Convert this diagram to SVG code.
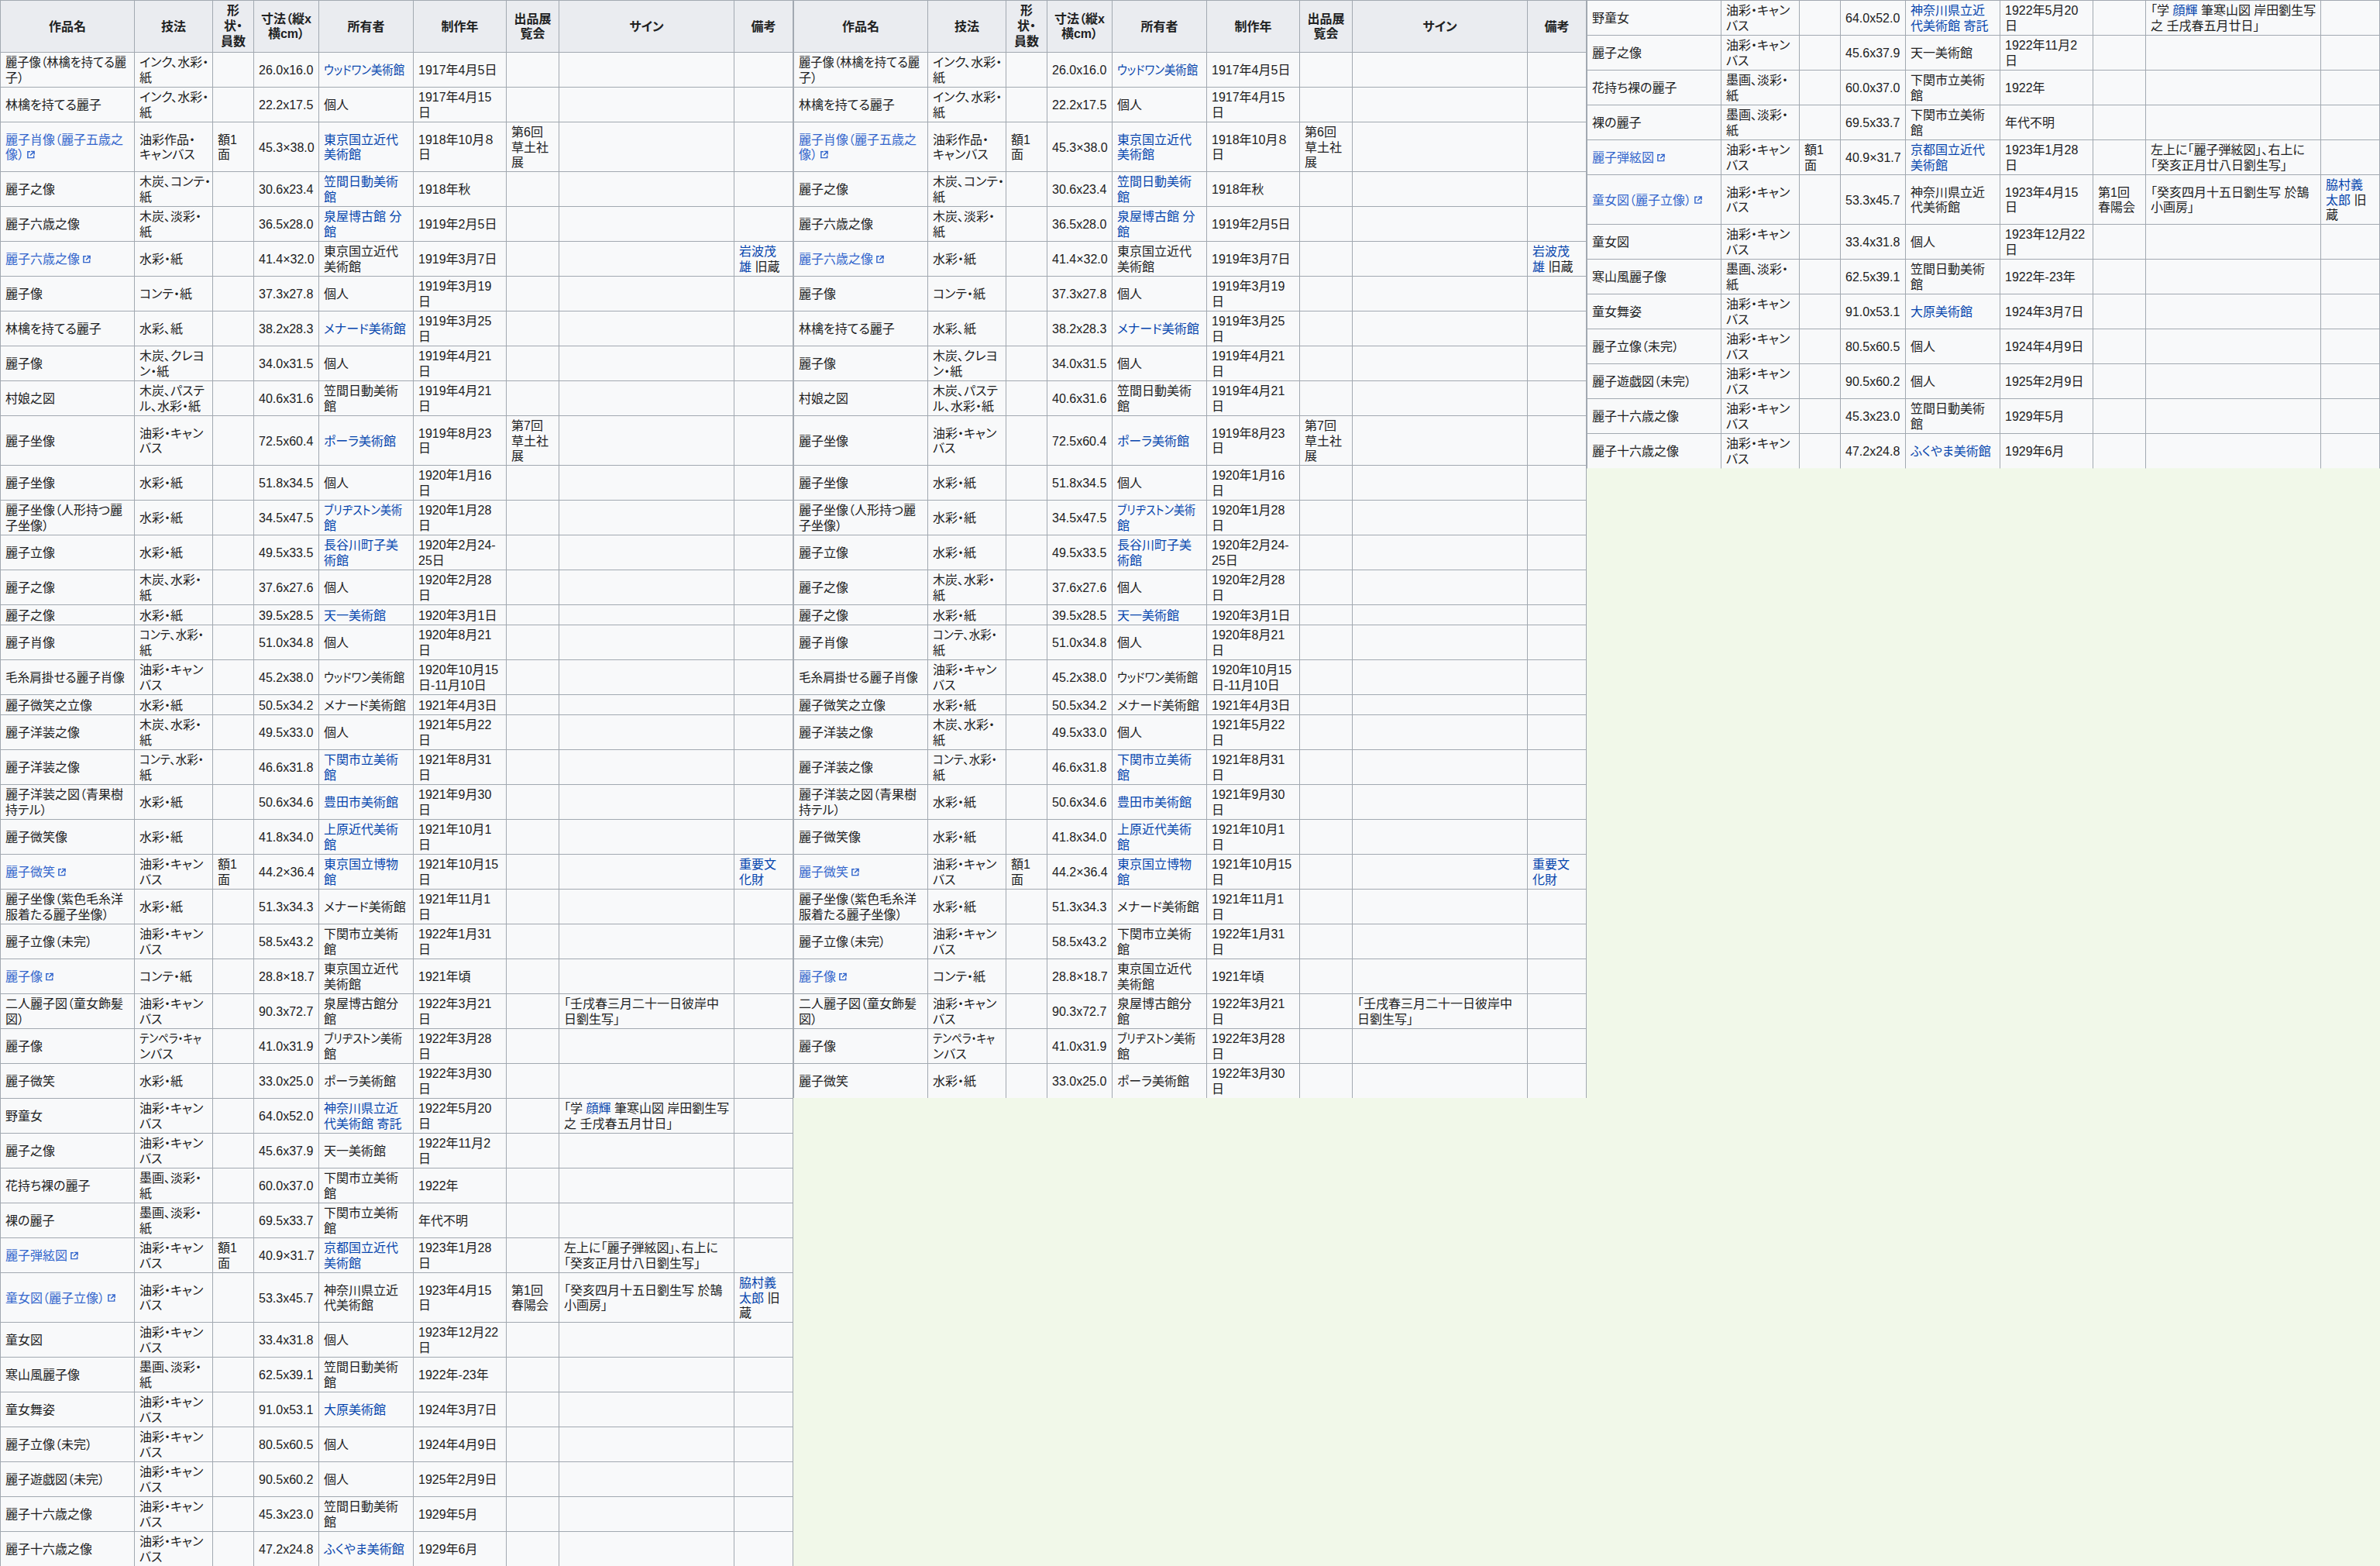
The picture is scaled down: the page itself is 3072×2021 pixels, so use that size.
<svg xmlns="http://www.w3.org/2000/svg" xmlns:xlink="http://www.w3.org/1999/xlink" width="3072" height="2021" viewBox="0 0 3072 2021">
<style>
.tb{font-family:"Liberation Sans","Noto Sans CJK JP",sans-serif;font-size:16px;fill:#202122;font-feature-settings:"palt"}
.h{font-weight:bold;text-anchor:middle}
.l{fill:#0645ad}
.e{fill:#3366cc}
.grid{fill:none;stroke:#a2a9b1;stroke-width:1}
</style>
<defs>
<symbol id="ext" viewBox="0 0 12 12"><path d="M5 2H1.5v8.5H10V7" fill="none" stroke="#36c" stroke-width="1.6"/><path d="M6 1.5h4.5V6M10.5 1.5L5 7" fill="none" stroke="#36c" stroke-width="1.6"/></symbol>
<clipPath id="cl"><rect x="0" y="0" width="1024" height="2021"/></clipPath>
<clipPath id="cm"><rect x="1024" y="0" width="1024" height="1417"/></clipPath>
<clipPath id="cr"><rect x="2048" y="0" width="1024" height="604.5"/></clipPath>
<g id="tbl" class="tb">
<rect x="0.5" y="0.5" width="1023" height="67" fill="#eaecf0"/>
<rect x="0.5" y="67.5" width="1023" height="1954" fill="#f8f9fa"/>
<path class="grid" d="M0 0.5H1024M0 67.5H1024M0 112.5H1024M0 157.5H1024M0 221.5H1024M0 266.5H1024M0 311.5H1024M0 356.5H1024M0 401.5H1024M0 446.5H1024M0 491.5H1024M0 536.5H1024M0 600.5H1024M0 645.5H1024M0 690.5H1024M0 735.5H1024M0 780.5H1024M0 806.5H1024M0 851.5H1024M0 896.5H1024M0 922.5H1024M0 967.5H1024M0 1012.5H1024M0 1057.5H1024M0 1102.5H1024M0 1147.5H1024M0 1192.5H1024M0 1237.5H1024M0 1282.5H1024M0 1327.5H1024M0 1372.5H1024M0 1417.5H1024M0 1462.5H1024M0 1507.5H1024M0 1552.5H1024M0 1597.5H1024M0 1642.5H1024M0 1706.5H1024M0 1751.5H1024M0 1796.5H1024M0 1841.5H1024M0 1886.5H1024M0 1931.5H1024M0 1976.5H1024"/>
<path class="grid" d="M0.5 0V2022M173.5 0V2022M274.5 0V2022M327.5 0V2022M411.5 0V2022M533.5 0V2022M653.5 0V2022M721.5 0V2022M947.5 0V2022M1023.5 0V2022"/>
<g class="h">
<text x="87" y="39.5">作品名</text>
<text x="224" y="39.5">技法</text>
<text x="301" y="18.7">形<tspan x="301" dy="20">状・</tspan><tspan x="301" dy="20">員数</tspan></text>
<text x="369.5" y="29.5">寸法（縦x<tspan x="369.5" dy="19.5">横cm）</tspan></text>
<text x="472.5" y="39.5">所有者</text>
<text x="593.5" y="39.5">制作年</text>
<text x="687.5" y="29.5">出品展<tspan x="687.5" dy="19.5">覧会</tspan></text>
<text x="834.5" y="39.5">サイン</text>
<text x="985.5" y="39.5">備考</text>
</g>
<g>
<text x="7" y="86.4" textLength="156" lengthAdjust="spacingAndGlyphs">麗子像（林檎を持てる麗</text>
<text x="7" y="105.6">子）</text>
<text x="180" y="86.4">インク、水彩・<tspan x="180" dy="19.2">紙</tspan></text>
<text x="334" y="96">26.0x16.0</text>
<text x="418" y="96" class="l" textLength="104" lengthAdjust="spacingAndGlyphs">ウッドワン美術館</text>
<text x="540" y="96">1917年4月5日</text>

<text x="7" y="141">林檎を持てる麗子</text>
<text x="180" y="131.4">インク、水彩・<tspan x="180" dy="19.2">紙</tspan></text>
<text x="334" y="141">22.2x17.5</text>
<text x="418" y="141">個人</text>
<text x="540" y="131.4">1917年4月15<tspan x="540" dy="19.2">日</tspan></text>

<text x="7" y="185.9" class="e">麗子肖像（麗子五歳之<tspan x="7" dy="19.2">像）</tspan></text>
<use href="#ext" x="34.5" y="194" width="11" height="11"/>
<text x="180" y="185.9">油彩作品・<tspan x="180" dy="19.2">キャンバス</tspan></text>
<text x="281" y="185.9">額1<tspan x="281" dy="19.2">面</tspan></text>
<text x="334" y="195.5">45.3×38.0</text>
<text x="418" y="185.9" class="l">東京国立近代<tspan x="418" dy="19.2">美術館</tspan></text>
<text x="540" y="185.9">1918年10月８<tspan x="540" dy="19.2">日</tspan></text>
<text x="660" y="176.3">第6回<tspan x="660" dy="19.2">草土社</tspan><tspan x="660" dy="19.2">展</tspan></text>

<text x="7" y="250">麗子之像</text>
<text x="180" y="240.4">木炭、コンテ・<tspan x="180" dy="19.2">紙</tspan></text>
<text x="334" y="250">30.6x23.4</text>
<text x="418" y="240.4" class="l">笠間日動美術<tspan x="418" dy="19.2">館</tspan></text>
<text x="540" y="250">1918年秋</text>

<text x="7" y="295">麗子六歳之像</text>
<text x="180" y="285.4">木炭、淡彩・<tspan x="180" dy="19.2">紙</tspan></text>
<text x="334" y="295">36.5x28.0</text>
<text x="418" y="285.4" class="l">泉屋博古館 分<tspan x="418" dy="19.2">館</tspan></text>
<text x="540" y="295">1919年2月5日</text>

<text x="7" y="340" class="e">麗子六歳之像</text>
<use href="#ext" x="106.5" y="329" width="11" height="11"/>
<text x="180" y="340">水彩・紙</text>
<text x="334" y="340">41.4×32.0</text>
<text x="418" y="330.4">東京国立近代<tspan x="418" dy="19.2">美術館</tspan></text>
<text x="540" y="340">1919年3月7日</text>
<text x="954" y="330.4"><tspan class="l">岩波茂</tspan><tspan x="954" dy="19.2" class="l">雄</tspan> 旧蔵</text>

<text x="7" y="385">麗子像</text>
<text x="180" y="385">コンテ・紙</text>
<text x="334" y="385">37.3x27.8</text>
<text x="418" y="385">個人</text>
<text x="540" y="375.4">1919年3月19<tspan x="540" dy="19.2">日</tspan></text>

<text x="7" y="430">林檎を持てる麗子</text>
<text x="180" y="430">水彩、紙</text>
<text x="334" y="430">38.2x28.3</text>
<text x="418" y="430" class="l">メナード美術館</text>
<text x="540" y="420.4">1919年3月25<tspan x="540" dy="19.2">日</tspan></text>

<text x="7" y="475">麗子像</text>
<text x="180" y="465.4">木炭、クレヨ<tspan x="180" dy="19.2">ン・紙</tspan></text>
<text x="334" y="475">34.0x31.5</text>
<text x="418" y="475">個人</text>
<text x="540" y="465.4">1919年4月21<tspan x="540" dy="19.2">日</tspan></text>

<text x="7" y="520">村娘之図</text>
<text x="180" y="510.4">木炭、パステ<tspan x="180" dy="19.2">ル、水彩・紙</tspan></text>
<text x="334" y="520">40.6x31.6</text>
<text x="418" y="510.4">笠間日動美術<tspan x="418" dy="19.2">館</tspan></text>
<text x="540" y="510.4">1919年4月21<tspan x="540" dy="19.2">日</tspan></text>

<text x="7" y="574.5">麗子坐像</text>
<text x="180" y="564.9">油彩・キャン<tspan x="180" dy="19.2">バス</tspan></text>
<text x="334" y="574.5">72.5x60.4</text>
<text x="418" y="574.5" class="l">ポーラ美術館</text>
<text x="540" y="564.9">1919年8月23<tspan x="540" dy="19.2">日</tspan></text>
<text x="660" y="555.3">第7回<tspan x="660" dy="19.2">草土社</tspan><tspan x="660" dy="19.2">展</tspan></text>

<text x="7" y="629">麗子坐像</text>
<text x="180" y="629">水彩・紙</text>
<text x="334" y="629">51.8x34.5</text>
<text x="418" y="629">個人</text>
<text x="540" y="619.4">1920年1月16<tspan x="540" dy="19.2">日</tspan></text>

<text x="7" y="664.4">麗子坐像（人形持つ麗<tspan x="7" dy="19.2">子坐像）</tspan></text>
<text x="180" y="674">水彩・紙</text>
<text x="334" y="674">34.5x47.5</text>
<text x="418" y="664.4" class="l" textLength="101" lengthAdjust="spacingAndGlyphs">ブリヂストン美術</text>
<text x="418" y="683.6" class="l">館</text>
<text x="540" y="664.4">1920年1月28<tspan x="540" dy="19.2">日</tspan></text>

<text x="7" y="719">麗子立像</text>
<text x="180" y="719">水彩・紙</text>
<text x="334" y="719">49.5x33.5</text>
<text x="418" y="709.4" class="l">長谷川町子美<tspan x="418" dy="19.2">術館</tspan></text>
<text x="540" y="709.4">1920年2月24-<tspan x="540" dy="19.2">25日</tspan></text>

<text x="7" y="764">麗子之像</text>
<text x="180" y="754.4">木炭、水彩・<tspan x="180" dy="19.2">紙</tspan></text>
<text x="334" y="764">37.6x27.6</text>
<text x="418" y="764">個人</text>
<text x="540" y="754.4">1920年2月28<tspan x="540" dy="19.2">日</tspan></text>

<text x="7" y="799.5">麗子之像</text>
<text x="180" y="799.5">水彩・紙</text>
<text x="334" y="799.5">39.5x28.5</text>
<text x="418" y="799.5" class="l">天一美術館</text>
<text x="540" y="799.5">1920年3月1日</text>

<text x="7" y="835">麗子肖像</text>
<text x="180" y="825.4" textLength="83" lengthAdjust="spacingAndGlyphs">コンテ、水彩・</text>
<text x="180" y="844.6">紙</text>
<text x="334" y="835">51.0x34.8</text>
<text x="418" y="835">個人</text>
<text x="540" y="825.4">1920年8月21<tspan x="540" dy="19.2">日</tspan></text>

<text x="7" y="880" textLength="154" lengthAdjust="spacingAndGlyphs">毛糸肩掛せる麗子肖像</text>
<text x="180" y="870.4">油彩・キャン<tspan x="180" dy="19.2">バス</tspan></text>
<text x="334" y="880">45.2x38.0</text>
<text x="418" y="880" textLength="104" lengthAdjust="spacingAndGlyphs">ウッドワン美術館</text>
<text x="540" y="870.4">1920年10月15<tspan x="540" dy="19.2">日-11月10日</tspan></text>

<text x="7" y="915.5">麗子微笑之立像</text>
<text x="180" y="915.5">水彩・紙</text>
<text x="334" y="915.5">50.5x34.2</text>
<text x="418" y="915.5">メナード美術館</text>
<text x="540" y="915.5">1921年4月3日</text>

<text x="7" y="951">麗子洋装之像</text>
<text x="180" y="941.4">木炭、水彩・<tspan x="180" dy="19.2">紙</tspan></text>
<text x="334" y="951">49.5x33.0</text>
<text x="418" y="951">個人</text>
<text x="540" y="941.4">1921年5月22<tspan x="540" dy="19.2">日</tspan></text>

<text x="7" y="996">麗子洋装之像</text>
<text x="180" y="986.4" textLength="83" lengthAdjust="spacingAndGlyphs">コンテ、水彩・</text>
<text x="180" y="1005.6">紙</text>
<text x="334" y="996">46.6x31.8</text>
<text x="418" y="986.4" class="l">下関市立美術<tspan x="418" dy="19.2">館</tspan></text>
<text x="540" y="986.4">1921年8月31<tspan x="540" dy="19.2">日</tspan></text>

<text x="7" y="1031.4">麗子洋装之図（青果樹<tspan x="7" dy="19.2">持テル）</tspan></text>
<text x="180" y="1041">水彩・紙</text>
<text x="334" y="1041">50.6x34.6</text>
<text x="418" y="1041" class="l">豊田市美術館</text>
<text x="540" y="1031.4">1921年9月30<tspan x="540" dy="19.2">日</tspan></text>

<text x="7" y="1086">麗子微笑像</text>
<text x="180" y="1086">水彩・紙</text>
<text x="334" y="1086">41.8x34.0</text>
<text x="418" y="1076.4" class="l">上原近代美術<tspan x="418" dy="19.2">館</tspan></text>
<text x="540" y="1076.4">1921年10月1<tspan x="540" dy="19.2">日</tspan></text>

<text x="7" y="1131" class="e">麗子微笑</text>
<use href="#ext" x="74.5" y="1120" width="11" height="11"/>
<text x="180" y="1121.4">油彩・キャン<tspan x="180" dy="19.2">バス</tspan></text>
<text x="281" y="1121.4">額1<tspan x="281" dy="19.2">面</tspan></text>
<text x="334" y="1131">44.2×36.4</text>
<text x="418" y="1121.4" class="l">東京国立博物<tspan x="418" dy="19.2">館</tspan></text>
<text x="540" y="1121.4">1921年10月15<tspan x="540" dy="19.2">日</tspan></text>
<text x="954" y="1121.4" class="l">重要文<tspan x="954" dy="19.2">化財</tspan></text>

<text x="7" y="1166.4">麗子坐像（紫色毛糸洋<tspan x="7" dy="19.2">服着たる麗子坐像）</tspan></text>
<text x="180" y="1176">水彩・紙</text>
<text x="334" y="1176">51.3x34.3</text>
<text x="418" y="1176">メナード美術館</text>
<text x="540" y="1166.4">1921年11月1<tspan x="540" dy="19.2">日</tspan></text>

<text x="7" y="1221">麗子立像（未完）</text>
<text x="180" y="1211.4">油彩・キャン<tspan x="180" dy="19.2">バス</tspan></text>
<text x="334" y="1221">58.5x43.2</text>
<text x="418" y="1211.4">下関市立美術<tspan x="418" dy="19.2">館</tspan></text>
<text x="540" y="1211.4">1922年1月31<tspan x="540" dy="19.2">日</tspan></text>

<text x="7" y="1266" class="e">麗子像</text>
<use href="#ext" x="58.5" y="1255" width="11" height="11"/>
<text x="180" y="1266">コンテ・紙</text>
<text x="334" y="1266">28.8×18.7</text>
<text x="418" y="1256.4">東京国立近代<tspan x="418" dy="19.2">美術館</tspan></text>
<text x="540" y="1266">1921年頃</text>

<text x="7" y="1301.4">二人麗子図（童女飾髪<tspan x="7" dy="19.2">図）</tspan></text>
<text x="180" y="1301.4">油彩・キャン<tspan x="180" dy="19.2">バス</tspan></text>
<text x="334" y="1311">90.3x72.7</text>
<text x="418" y="1301.4">泉屋博古館分<tspan x="418" dy="19.2">館</tspan></text>
<text x="540" y="1301.4">1922年3月21<tspan x="540" dy="19.2">日</tspan></text>
<text x="728" y="1301.4">「壬戌春三月二十一日彼岸中<tspan x="728" dy="19.2">日劉生写」</tspan></text>

<text x="7" y="1356">麗子像</text>
<text x="180" y="1346.4" textLength="80" lengthAdjust="spacingAndGlyphs">テンペラ・キャ</text>
<text x="180" y="1365.6">ンバス</text>
<text x="334" y="1356">41.0x31.9</text>
<text x="418" y="1346.4" textLength="101" lengthAdjust="spacingAndGlyphs">ブリヂストン美術</text>
<text x="418" y="1365.6">館</text>
<text x="540" y="1346.4">1922年3月28<tspan x="540" dy="19.2">日</tspan></text>

<text x="7" y="1401">麗子微笑</text>
<text x="180" y="1401">水彩・紙</text>
<text x="334" y="1401">33.0x25.0</text>
<text x="418" y="1401">ポーラ美術館</text>
<text x="540" y="1391.4">1922年3月30<tspan x="540" dy="19.2">日</tspan></text>

<text x="7" y="1446">野童女</text>
<text x="180" y="1436.4">油彩・キャン<tspan x="180" dy="19.2">バス</tspan></text>
<text x="334" y="1446">64.0x52.0</text>
<text x="418" y="1436.4" class="l">神奈川県立近<tspan x="418" dy="19.2">代美術館 寄託</tspan></text>
<text x="540" y="1436.4">1922年5月20<tspan x="540" dy="19.2">日</tspan></text>
<text x="728" y="1436.4">「学 <tspan class="l">顔輝</tspan> 筆寒山図 岸田劉生写<tspan x="728" dy="19.2">之 壬戌春五月廿日」</tspan></text>

<text x="7" y="1491">麗子之像</text>
<text x="180" y="1481.4">油彩・キャン<tspan x="180" dy="19.2">バス</tspan></text>
<text x="334" y="1491">45.6x37.9</text>
<text x="418" y="1491">天一美術館</text>
<text x="540" y="1481.4">1922年11月2<tspan x="540" dy="19.2">日</tspan></text>

<text x="7" y="1536">花持ち裸の麗子</text>
<text x="180" y="1526.4">墨画、淡彩・<tspan x="180" dy="19.2">紙</tspan></text>
<text x="334" y="1536">60.0x37.0</text>
<text x="418" y="1526.4">下関市立美術<tspan x="418" dy="19.2">館</tspan></text>
<text x="540" y="1536">1922年</text>

<text x="7" y="1581">裸の麗子</text>
<text x="180" y="1571.4">墨画、淡彩・<tspan x="180" dy="19.2">紙</tspan></text>
<text x="334" y="1581">69.5x33.7</text>
<text x="418" y="1571.4">下関市立美術<tspan x="418" dy="19.2">館</tspan></text>
<text x="540" y="1581">年代不明</text>

<text x="7" y="1626" class="e">麗子弾絃図</text>
<use href="#ext" x="90.5" y="1615" width="11" height="11"/>
<text x="180" y="1616.4">油彩・キャン<tspan x="180" dy="19.2">バス</tspan></text>
<text x="281" y="1616.4">額1<tspan x="281" dy="19.2">面</tspan></text>
<text x="334" y="1626">40.9×31.7</text>
<text x="418" y="1616.4" class="l">京都国立近代<tspan x="418" dy="19.2">美術館</tspan></text>
<text x="540" y="1616.4">1923年1月28<tspan x="540" dy="19.2">日</tspan></text>
<text x="728" y="1616.4">左上に「麗子弾絃図」、右上に<tspan x="728" dy="19.2">「癸亥正月廿八日劉生写」</tspan></text>

<text x="7" y="1680.5" class="e">童女図（麗子立像）</text>
<use href="#ext" x="138.5" y="1669.5" width="11" height="11"/>
<text x="180" y="1670.9">油彩・キャン<tspan x="180" dy="19.2">バス</tspan></text>
<text x="334" y="1680.5">53.3x45.7</text>
<text x="418" y="1670.9">神奈川県立近<tspan x="418" dy="19.2">代美術館</tspan></text>
<text x="540" y="1670.9">1923年4月15<tspan x="540" dy="19.2">日</tspan></text>
<text x="660" y="1670.9">第1回<tspan x="660" dy="19.2">春陽会</tspan></text>
<text x="728" y="1670.9">「癸亥四月十五日劉生写 於鵠<tspan x="728" dy="19.2">小画房」</tspan></text>
<text x="954" y="1661.3"><tspan class="l">脇村義</tspan><tspan x="954" dy="19.2" class="l">太郎</tspan> 旧<tspan x="954" dy="19.2">蔵</tspan></text>

<text x="7" y="1735">童女図</text>
<text x="180" y="1725.4">油彩・キャン<tspan x="180" dy="19.2">バス</tspan></text>
<text x="334" y="1735">33.4x31.8</text>
<text x="418" y="1735">個人</text>
<text x="540" y="1725.4">1923年12月22<tspan x="540" dy="19.2">日</tspan></text>

<text x="7" y="1780">寒山風麗子像</text>
<text x="180" y="1770.4">墨画、淡彩・<tspan x="180" dy="19.2">紙</tspan></text>
<text x="334" y="1780">62.5x39.1</text>
<text x="418" y="1770.4">笠間日動美術<tspan x="418" dy="19.2">館</tspan></text>
<text x="540" y="1780">1922年-23年</text>

<text x="7" y="1825">童女舞姿</text>
<text x="180" y="1815.4">油彩・キャン<tspan x="180" dy="19.2">バス</tspan></text>
<text x="334" y="1825">91.0x53.1</text>
<text x="418" y="1825" class="l">大原美術館</text>
<text x="540" y="1825">1924年3月7日</text>

<text x="7" y="1870">麗子立像（未完）</text>
<text x="180" y="1860.4">油彩・キャン<tspan x="180" dy="19.2">バス</tspan></text>
<text x="334" y="1870">80.5x60.5</text>
<text x="418" y="1870">個人</text>
<text x="540" y="1870">1924年4月9日</text>

<text x="7" y="1915">麗子遊戯図（未完）</text>
<text x="180" y="1905.4">油彩・キャン<tspan x="180" dy="19.2">バス</tspan></text>
<text x="334" y="1915">90.5x60.2</text>
<text x="418" y="1915">個人</text>
<text x="540" y="1915">1925年2月9日</text>

<text x="7" y="1960">麗子十六歳之像</text>
<text x="180" y="1950.4">油彩・キャン<tspan x="180" dy="19.2">バス</tspan></text>
<text x="334" y="1960">45.3x23.0</text>
<text x="418" y="1950.4">笠間日動美術<tspan x="418" dy="19.2">館</tspan></text>
<text x="540" y="1960">1929年5月</text>

<text x="7" y="2005">麗子十六歳之像</text>
<text x="180" y="1995.4">油彩・キャン<tspan x="180" dy="19.2">バス</tspan></text>
<text x="334" y="2005">47.2x24.8</text>
<text x="418" y="2005" class="l">ふくやま美術館</text>
<text x="540" y="2005">1929年6月</text>
</g>
</g>
</defs>
<rect id="background" x="0" y="0" width="3072" height="2021" fill="#f1f8e9"/>
<g id="table-left" clip-path="url(#cl)"><use href="#tbl"/></g>
<g id="table-middle" clip-path="url(#cm)"><use href="#tbl" transform="translate(1024,0)"/></g>
<g id="table-right" clip-path="url(#cr)"><use href="#tbl" transform="translate(2048,-1417)"/></g>
</svg>
